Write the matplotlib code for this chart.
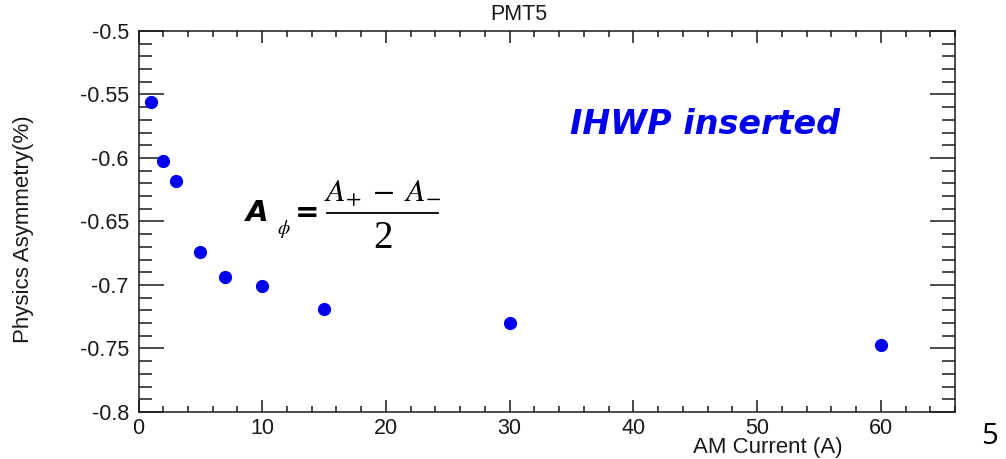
import matplotlib
matplotlib.use("Agg")
import matplotlib.pyplot as plt
from matplotlib.ticker import MultipleLocator

# === Data ===
am_current = [1, 2, 3, 5, 7, 10, 15, 30, 60]
asymmetry = [-0.556, -0.602, -0.618, -0.674, -0.694, -0.701, -0.719, -0.730, -0.747]
asym_err = [0.003, 0.003, 0.003, 0.003, 0.003, 0.003, 0.003, 0.003, 0.003]

x_ticks = [0, 10, 20, 30, 40, 50, 60]
y_ticks = [-0.8, -0.75, -0.7, -0.65, -0.6, -0.55, -0.5]
y_tick_labels = ["-0.8", "-0.75", "-0.7", "-0.65", "-0.6", "-0.55", "-0.5"]

W, H = 1006, 459
plt.rcParams['font.family'] = ['Liberation Sans', 'DejaVu Sans']


def px(x, y):
    # pixel position (from top-left) -> figure fraction
    return x / W, 1 - y / H


fig = plt.figure(figsize=(W / 100, H / 100), dpi=100)
ax = fig.add_axes([138.5 / W, 1 - 412 / H, (955 - 138.5) / W, (412 - 31) / H])

ax.errorbar(am_current, asymmetry, yerr=asym_err, fmt='o', color='#0000ee',
            ecolor='black', elinewidth=1.2, capsize=0, markersize=8.5, zorder=3)

ax.set_xlim(0, 66)
ax.set_ylim(-0.8, -0.5)
ax.set_xticks(x_ticks)
ax.set_yticks(y_ticks)
ax.set_yticklabels(y_tick_labels)
ax.xaxis.set_minor_locator(MultipleLocator(2))
ax.yaxis.set_minor_locator(MultipleLocator(0.01))

ax.tick_params(axis='both', which='both', direction='in', top=True, right=True,
               width=1.1, labelsize=15.5, colors='#1a1a1a')
ax.tick_params(axis='x', which='major', length=8.5, pad=4)
ax.tick_params(axis='x', which='minor', length=4.3)
ax.tick_params(axis='y', which='major', length=18, pad=7)
ax.tick_params(axis='y', which='minor', length=9.4)
for s in ax.spines.values():
    s.set_linewidth(1.1)
    s.set_color('#1a1a1a')

# === Titles / labels ===
fig.text(*px(519, 15), "PMT5", fontsize=15.5, ha='center', va='center', color='#1a1a1a')
fig.text(*px(843, 448), "AM Current (A)", fontsize=16, ha='right', va='center', color='#1a1a1a')
fig.text(*px(24, 229), "Physics Asymmetry(%)", fontsize=16, rotation=90,
         ha='center', va='center', color='#1a1a1a')

fig.text(*px(705, 125), "IHWP inserted", fontsize=24, fontweight='bold', fontstyle='italic',
         family=['DejaVu Sans'], color='#0000ee', ha='center', va='center')

# === Formula ===
fig.text(*px(257, 213), "A", fontsize=21, fontweight='bold', fontstyle='italic',
         family=['DejaVu Sans'], ha='center', va='center', color='black')
fig.text(*px(284, 229), r"$\phi$", fontsize=14, math_fontfamily='stix',
         ha='center', va='center', color='black')
fig.text(*px(307, 213), "=", fontsize=21, fontweight='bold', family=['DejaVu Sans'],
         ha='center', va='center', color='black')
fig.text(*px(383, 193), r"$A_{+}\;-\;A_{-}$", fontsize=23, math_fontfamily='stix',
         ha='center', va='center', color='black')
fig.add_artist(plt.Line2D([327 / W, 438 / W], [1 - 213 / H, 1 - 213 / H],
                          color='black', linewidth=1.3))
fig.text(*px(383, 238), "2", fontsize=28, family=['Liberation Serif'],
         ha='center', va='center', color='black')

# slide number
fig.text(*px(989, 436), "5", fontsize=21, family=['Open Sans'], ha='center', va='center',
         color='black')

fig.savefig("out.png", dpi=100)
